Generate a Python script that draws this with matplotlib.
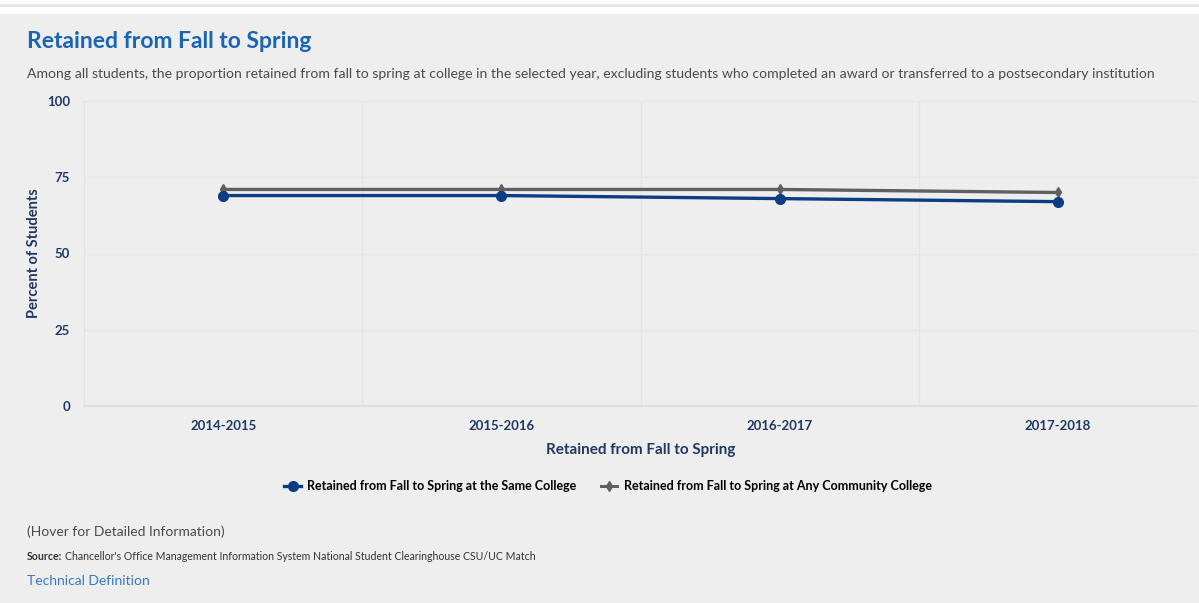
import matplotlib
matplotlib.use("Agg")
import matplotlib.pyplot as plt
from matplotlib.lines import Line2D

# data
years = ["2014-2015", "2015-2016", "2016-2017", "2017-2018"]
same_college = [69, 69, 68, 67]
any_cc = [71, 71, 71, 70]
yticks = [0, 25, 50, 75, 100]

navy = "#1f3864"
blue = "#0b3d82"
gray = "#606060"
bg = "#eeeeee"

plt.rcParams['font.family'] = ['Lato', 'DejaVu Sans']

fig = plt.figure(figsize=(11.99, 6.03), dpi=100, facecolor=bg)

# white strip at the top of the page
fig.patches.append(plt.Rectangle((0, 1 - 14 / 603), 1, 14 / 603, transform=fig.transFigure,
                                 facecolor="white", edgecolor="none"))
fig.patches.append(plt.Rectangle((0, 1 - 7 / 603), 1, 3 / 603, transform=fig.transFigure,
                                 facecolor="#e8e8e8", edgecolor="none"))

ax = fig.add_axes([84 / 1199, 1 - 406 / 603, (1197 - 84) / 1199, (406 - 101) / 603])
ax.set_facecolor(bg)

x = list(range(len(years)))
ax.plot(x, any_cc, color=gray, lw=2.4, marker="d", ms=5, zorder=3)
ax.plot(x, same_college, color=blue, lw=2.4, marker="o", ms=7, zorder=4)

ax.set_xlim(-0.5, 3.5)
ax.set_ylim(0, 100)
ax.set_yticks(yticks)
ax.set_xticks(x)
ax.set_xticklabels(years)
ax.set_xticks([0.5, 1.5, 2.5], minor=True)
ax.tick_params(axis="both", which="both", length=0, labelsize=9.5, labelcolor=navy)
for lab in ax.get_xticklabels() + ax.get_yticklabels():
    lab.set_fontweight("bold")
ax.tick_params(axis="x", pad=10)
ax.tick_params(axis="y", pad=10)

ax.grid(axis="y", which="major", color="#e4e4e4", lw=1)
ax.grid(axis="x", which="minor", color="#e4e4e4", lw=1)
for s in ["top", "right"]:
    ax.spines[s].set_visible(False)
ax.spines["left"].set_color("#e4e4e4")
ax.spines["bottom"].set_color("#d6dcea")
ax.spines["bottom"].set_linewidth(1.2)

ax.set_ylabel("Percent of Students", fontsize=10.5, fontweight="bold", color=navy, labelpad=4)
ax.set_xlabel("Retained from Fall to Spring", fontsize=11, fontweight="bold", color=navy, labelpad=8)

handles = [
    Line2D([], [], color=blue, lw=2.4, marker="o", ms=7),
    Line2D([], [], color=gray, lw=2.2, marker="d", ms=5),
]
fig.legend(handles, ["Retained from Fall to Spring at the Same College",
                     "Retained from Fall to Spring at Any Community College"],
           loc="center", bbox_to_anchor=(608 / 1199, 1 - 486 / 603), ncol=2, frameon=False,
           handlelength=1.3, columnspacing=2.0, handletextpad=0.5,
           prop={"weight": "bold", "size": 9})

fig.text(27 / 1199, 1 - 41 / 603, "Retained from Fall to Spring", fontsize=16.5,
         fontweight="bold", color="#1a64b4", va="center")
fig.text(27 / 1199, 1 - 74 / 603,
         "Among all students, the proportion retained from fall to spring at college in the selected year, "
         "excluding students who completed an award or transferred to a postsecondary institution",
         fontsize=10.05, color="#4a4a4a", va="center")
fig.text(27 / 1199, 1 - 532 / 603, "(Hover for Detailed Information)", fontsize=10,
         color="#4a4a4a", va="center")

src_lab = fig.text(27 / 1199, 1 - 556 / 603, "Source:", fontsize=7.6, fontweight="bold",
                   color="#333333", va="center")
renderer = fig.canvas.get_renderer()
bb = src_lab.get_window_extent(renderer)
fig.text((bb.x1 + 3) / 1199, 1 - 556 / 603,
         "Chancellor's Office Management Information System National Student Clearinghouse CSU/UC Match",
         fontsize=7.6, color="#333333", va="center")
fig.text(27 / 1199, 1 - 581 / 603, "Technical Definition", fontsize=10, color="#3a78c0", va="center")

fig.savefig("out.png", dpi=100, facecolor=bg)
